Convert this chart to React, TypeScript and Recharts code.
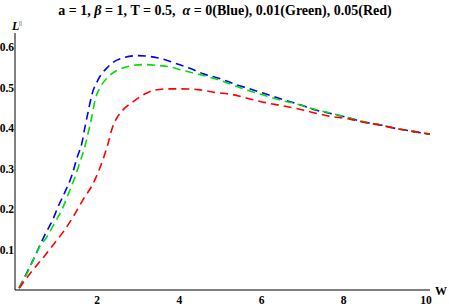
import React from 'react';
import { LineChart, Line, XAxis, YAxis } from 'recharts';

// [W, L]
const blueSeries: [number, number][] = [
  [0.1, 0.005], [0.44, 0.074], [0.73, 0.137], [0.92, 0.174], [1.05, 0.206],
  [1.22, 0.243], [1.39, 0.285], [1.51, 0.327], [1.63, 0.364], [1.7, 0.401],
  [1.78, 0.44], [1.87, 0.482], [2.02, 0.519], [2.26, 0.551], [2.48, 0.568],
  [2.98, 0.579], [3.46, 0.574], [3.85, 0.562], [4.22, 0.549], [4.59, 0.534],
  [5.0, 0.522], [5.39, 0.507], [5.78, 0.495], [6.15, 0.483], [6.54, 0.47],
  [6.9, 0.459], [7.27, 0.446], [7.68, 0.436], [8.1, 0.426], [8.46, 0.416],
  [8.85, 0.409], [9.27, 0.399], [9.68, 0.392], [10.1, 0.385],
];

const greenSeries: [number, number][] = [
  [0.1, 0.005], [0.37, 0.057], [0.56, 0.1], [0.8, 0.135], [0.97, 0.167],
  [1.14, 0.198], [1.29, 0.235], [1.46, 0.279], [1.58, 0.316], [1.7, 0.354],
  [1.78, 0.388], [1.87, 0.428], [1.95, 0.47], [2.07, 0.5], [2.26, 0.526],
  [2.51, 0.544], [3.12, 0.557], [3.46, 0.555], [3.73, 0.552], [4.1, 0.542],
  [4.51, 0.532], [4.93, 0.52], [5.29, 0.507], [5.68, 0.493], [6.1, 0.48],
  [6.51, 0.468], [6.88, 0.459], [7.27, 0.447], [7.68, 0.437], [8.1, 0.426],
  [8.46, 0.416], [8.85, 0.409], [9.27, 0.399], [9.68, 0.392], [10.1, 0.385],
];

const redSeries: [number, number][] = [
  [0.1, 0.004], [0.4, 0.045], [0.71, 0.083], [0.97, 0.117], [1.17, 0.143],
  [1.41, 0.18], [1.65, 0.222], [1.9, 0.263], [2.02, 0.29], [2.14, 0.322],
  [2.26, 0.36], [2.36, 0.398], [2.48, 0.425], [2.63, 0.445], [2.87, 0.465],
  [3.21, 0.487], [3.41, 0.494], [3.7, 0.497], [4.07, 0.497], [4.46, 0.495],
  [4.88, 0.488], [5.29, 0.483], [5.68, 0.473], [6.1, 0.463], [6.46, 0.456],
  [6.88, 0.448], [7.27, 0.438], [7.68, 0.429], [8.1, 0.423], [8.46, 0.415],
  [8.85, 0.408], [9.27, 0.399], [9.68, 0.392], [10.1, 0.385],
];

const xTicks = [2, 4, 6, 8, 10];
const yTicks = [0.1, 0.2, 0.3, 0.4, 0.5, 0.6];

const toRows = (s: [number, number][]) => s.map(([w, l]) => ({ w, l }));

const serif = '"Liberation Serif", "Times New Roman", serif';
const tickStyle = { fontFamily: serif, fontWeight: 'bold' as const, fontSize: 11.5, fill: '#000' };

const dash = '8 5';

export default function App() {
  return (
    <div style={{ position: 'absolute', left: 0, top: 0, width: 449, height: 307, background: '#fff' }}>
      <LineChart width={449} height={307} margin={{ top: 33, right: 19, bottom: 0, left: 0 }}>
        <XAxis
          type="number"
          dataKey="w"
          domain={[0, 10.1]}
          ticks={xTicks}
          height={17}
          tickLine={false}
          tickSize={0}
          tickMargin={6}
          axisLine={{ stroke: '#000', strokeWidth: 1 }}
          tick={tickStyle}
          allowDataOverflow
        />
        <YAxis
          type="number"
          dataKey="l"
          domain={[0, 0.635]}
          ticks={yTicks}
          width={15}
          tickLine={false}
          tickSize={0}
          tickMargin={1}
          axisLine={{ stroke: '#000', strokeWidth: 1 }}
          tick={tickStyle}
          allowDataOverflow
        />
        <Line data={toRows(blueSeries)} dataKey="l" type="monotone" stroke="#0000ff" strokeWidth={1.6}
          strokeDasharray={dash} dot={false} isAnimationActive={false} />
        <Line data={toRows(greenSeries)} dataKey="l" type="monotone" stroke="#00e000" strokeWidth={1.6}
          strokeDasharray={dash} dot={false} isAnimationActive={false} />
        <Line data={toRows(redSeries)} dataKey="l" type="monotone" stroke="#ff0000" strokeWidth={1.6}
          strokeDasharray={dash} dot={false} isAnimationActive={false} />
      </LineChart>
      <svg width={449} height={307} style={{ position: 'absolute', left: 0, top: 0, pointerEvents: 'none' }}>
        <text x={225} y={15} textAnchor="middle" fontFamily={serif} fontWeight="bold" fontSize={14} fill="#000">
          a = 1, <tspan fontStyle="italic">β</tspan> = 1, T = 0.5,{'\u00a0\u00a0'}<tspan fontStyle="italic">α</tspan> = 0(Blue), 0.01(Green), 0.05(Red)
        </text>
        <text x={12} y={30} fontFamily={serif} fontWeight="bold" fontStyle="italic" fontSize={12} fill="#000">L</text>
        <text x={19} y={25} fontFamily={serif} fontSize={7} fill="#000">||</text>
        <text x={435} y={295} fontFamily={serif} fontWeight="bold" fontSize={12} fill="#000">W</text>
      </svg>
    </div>
  );
}
